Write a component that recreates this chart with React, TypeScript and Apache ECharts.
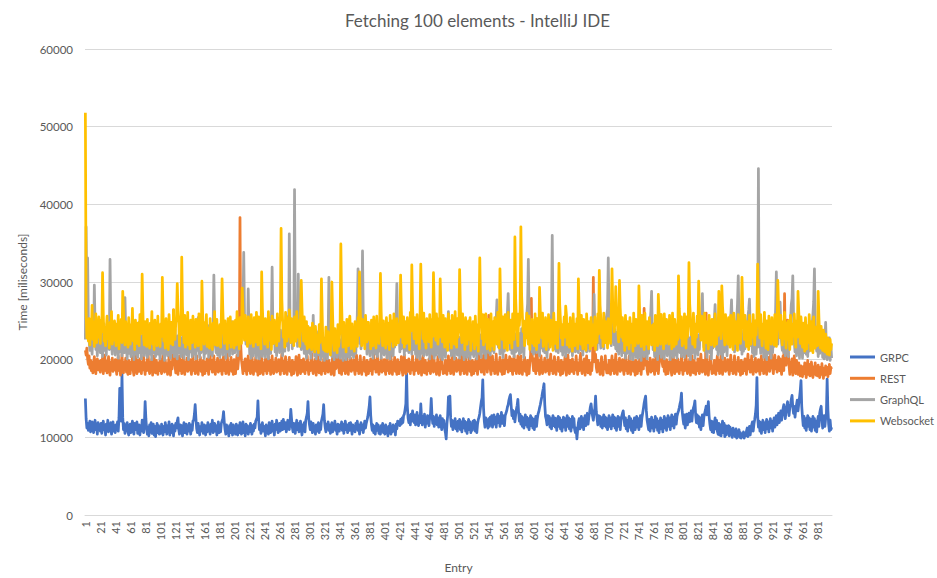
import React, { useEffect, useRef } from "react";
import * as echarts from "echarts";

// Values are in units of 100 ms (multiplied by 100 when building the series)
const seriesNames = ["GRPC", "REST", "GraphQL", "Websocket"];
const colors = ["#4472C4", "#ED7D31", "#A5A5A5", "#FFC000"];

const grpc = [
150,124,112,118,109,116,121,107,114,120,111,106,117,122,110,115,104,119,112,116,
108,118,105,113,121,110,115,103,117,109,122,107,114,111,119,104,112,120,108,115,
106,116,111,120,108,125,163,128,121,181,126,110,118,105,114,109,119,107,103,112,
117,106,113,121,109,104,118,110,112,120,105,111,116,103,114,108,122,110,106,117,
146,124,111,104,113,102,116,108,119,105,112,117,103,114,101,110,118,106,115,104,
111,105,117,109,103,114,107,119,111,104,115,108,120,103,113,106,117,110,102,115,
108,118,112,121,125,110,104,116,109,115,102,112,119,106,111,117,104,114,108,118,
112,104,116,109,121,122,130,142,124,111,106,118,110,103,114,108,119,112,105,116,
110,103,115,107,119,109,113,104,117,110,122,106,112,118,108,115,103,111,120,106,
115,107,118,121,124,133,119,110,104,116,108,113,102,115,106,118,111,103,116,108,
112,104,117,108,103,115,106,119,110,104,113,120,106,111,102,117,108,115,104,112,
107,118,111,104,115,108,117,112,121,123,126,147,122,110,116,105,112,119,108,114,
110,102,116,108,113,104,119,110,106,115,121,108,112,103,117,110,122,114,106,112,
118,108,114,121,110,123,116,111,119,107,114,122,117,110,120,136,124,113,107,118,
112,105,116,122,110,118,107,114,121,110,103,116,112,119,107,122,126,131,146,124,
116,110,120,112,106,118,110,114,104,116,108,112,119,106,114,110,121,125,130,142,
122,113,107,117,112,120,109,116,105,114,119,107,116,111,121,109,114,104,117,111,
108,116,112,120,109,117,105,114,121,110,116,106,112,118,109,119,114,104,116,110,
114,107,118,112,121,109,116,104,112,119,110,116,106,114,121,112,118,122,126,133,
140,152,128,116,109,116,106,114,104,112,118,109,116,105,112,104,115,110,118,106,
112,104,116,107,112,102,114,109,118,104,112,107,116,109,114,103,117,111,121,116,
120,115,123,117,125,119,128,130,136,143,182,140,125,119,128,116,130,121,134,124,
119,129,116,125,132,120,115,128,119,143,126,116,127,119,130,113,124,118,128,121,
115,126,130,150,128,118,127,114,124,119,129,116,125,113,121,128,118,110,124,114,
122,111,106,98,117,128,152,130,153,125,114,122,110,121,113,124,111,119,108,121,
114,123,110,120,107,118,124,112,121,108,119,105,117,123,110,120,106,117,109,121,
113,122,108,119,106,117,123,126,131,139,146,151,174,138,121,113,125,116,122,112,
124,114,126,117,128,113,123,129,117,126,113,125,130,119,127,114,124,132,118,128,
121,115,128,131,134,139,142,148,152,155,141,128,135,124,133,120,129,136,141,149,
132,121,130,117,127,114,125,112,122,129,116,126,113,124,110,121,128,115,125,112,
123,110,120,127,114,124,130,133,138,142,147,152,158,163,169,142,127,123,116,128,
118,127,113,124,111,122,128,115,125,113,124,109,121,127,114,125,111,122,108,120,
126,113,124,109,121,128,114,125,111,123,108,120,127,113,124,110,106,112,98,110,
119,124,111,122,127,113,124,110,123,128,115,125,131,117,126,132,139,143,134,127,
122,132,137,153,133,124,116,128,119,127,114,125,112,124,129,115,126,113,124,110,
121,128,114,125,111,122,129,115,126,112,124,109,121,127,114,125,110,122,127,131,
134,124,115,125,111,122,108,120,127,113,124,109,121,106,118,125,110,121,127,113,
124,110,121,128,114,125,131,137,144,149,153,134,122,116,110,123,108,120,126,112,
122,108,120,127,113,124,109,121,106,118,125,111,122,107,120,127,112,124,109,121,
128,114,125,110,122,129,115,126,112,124,130,117,127,131,134,138,143,147,157,133,
124,117,129,112,123,130,116,127,131,120,129,134,121,132,138,141,147,128,119,129,
118,127,113,125,110,122,129,115,126,131,135,140,129,137,146,127,117,110,121,107,
120,106,118,125,111,122,108,104,118,103,116,102,114,121,106,118,101,115,103,114,
106,115,102,113,104,110,100,112,103,109,101,111,99,107,102,110,100,106,99,104,
101,107,99,105,102,108,112,101,109,114,103,111,116,120,108,117,123,130,141,177,
127,113,121,108,119,105,116,122,110,119,106,117,123,111,120,107,118,124,112,121,
108,119,125,113,122,128,116,125,131,119,128,134,122,131,137,142,131,124,134,140,
146,136,128,138,143,149,154,139,131,140,126,136,142,148,134,143,151,160,173,140,
126,115,127,112,124,109,121,128,114,125,110,123,108,120,127,113,124,109,121,107,
119,127,114,131,136,140,123,112,121,128,114,124,131,175,136,117,108,122,110,113,
];

const rest = [
212,206,215,201,194,205,189,199,186,197,183,195,204,190,182,196,201,187,198,191,
184,199,190,203,182,195,206,186,198,183,192,204,188,180,197,191,202,185,195,187,
200,189,181,195,205,186,198,180,193,207,188,183,197,190,202,184,195,181,199,189,
182,197,188,204,186,180,195,206,190,182,199,187,185,201,192,182,197,187,205,190,
181,196,186,200,208,188,182,197,186,201,180,193,205,188,183,199,190,181,196,186,
201,188,182,197,207,190,184,199,186,195,181,193,204,186,180,197,188,205,264,208,
192,183,199,188,181,196,205,186,199,182,193,207,188,181,197,191,202,185,196,187,
200,188,181,195,206,186,197,182,193,205,188,181,197,190,203,185,195,180,199,188,
182,197,186,201,191,181,196,207,188,199,184,193,205,186,181,197,190,202,184,195,
186,200,188,181,196,205,186,197,182,193,207,188,181,197,191,203,185,195,181,200,
189,182,197,206,188,199,208,383,218,199,191,182,197,186,201,188,181,196,205,186,
198,182,193,205,188,181,197,190,203,185,195,180,199,188,182,197,206,190,181,196,
186,201,188,182,197,205,186,199,181,193,205,188,182,197,190,202,184,195,186,200,
188,181,196,207,186,198,182,193,204,188,181,197,190,203,185,195,180,199,188,182,
197,188,204,186,180,195,206,190,182,199,188,185,201,192,182,197,187,205,190,181,
196,186,200,208,188,182,197,186,201,180,193,205,188,183,199,190,181,196,186,201,
188,182,197,207,190,184,199,186,195,181,193,204,186,180,197,188,205,190,209,192,
183,199,188,181,196,205,186,199,182,193,207,188,181,197,191,202,185,196,187,200,
188,181,195,206,186,197,182,193,205,188,181,197,190,203,185,195,180,199,188,182,
197,186,201,191,181,196,207,188,199,184,193,205,186,181,197,190,202,184,195,186,
200,188,181,196,205,186,197,182,193,207,188,181,197,191,203,185,195,181,200,189,
182,197,188,204,186,180,195,206,190,182,199,187,185,201,192,182,197,187,205,190,
181,196,186,200,208,188,182,197,186,201,180,193,205,188,183,199,190,181,196,186,
201,188,182,197,207,190,184,199,186,195,181,193,204,186,180,197,188,205,190,182,
192,183,199,188,181,196,205,186,199,182,193,207,188,181,197,191,202,185,196,187,
200,188,181,195,206,186,197,182,193,205,188,181,197,190,203,185,195,180,199,188,
182,197,186,201,191,181,196,207,188,199,184,193,205,186,181,257,213,199,184,195,
257,209,188,181,196,205,186,197,182,193,207,188,181,197,191,203,185,195,181,200,
189,182,197,206,188,199,184,193,204,186,201,188,181,196,205,186,199,182,193,205,
198,182,193,205,188,181,197,190,203,185,195,180,199,188,182,197,206,279,208,196,
186,201,188,182,253,207,186,199,181,193,205,188,182,197,190,202,184,195,186,200,
188,181,196,207,186,198,182,193,204,188,181,197,190,203,185,195,180,199,188,182,
197,188,204,186,180,195,206,190,182,199,188,185,201,192,182,197,187,205,190,181,
196,186,200,208,188,182,197,186,201,180,193,205,188,183,199,190,181,196,186,201,
306,218,197,207,190,184,199,186,195,181,193,204,186,180,197,188,205,190,183,193,
183,199,188,181,196,205,186,199,182,193,207,188,181,197,191,202,185,196,187,200,
188,181,195,206,186,197,182,193,205,188,181,197,190,203,185,195,180,199,188,182,
197,186,201,191,181,196,207,188,266,212,193,205,186,181,197,190,202,184,195,186,
200,188,181,196,205,186,197,182,193,207,258,208,197,191,203,185,195,181,200,189,
182,197,188,204,186,180,195,206,190,182,199,187,185,201,192,182,197,187,205,190,
181,196,186,200,208,188,182,197,186,201,180,193,205,188,183,199,190,181,196,186,
201,188,182,197,207,190,184,199,186,195,181,260,208,186,180,197,188,205,190,182,
192,183,199,188,181,196,205,186,199,182,193,207,188,181,197,191,202,185,196,187,
200,188,181,195,206,186,197,182,193,205,188,181,197,190,203,185,195,180,199,188,
182,197,186,201,191,181,196,207,188,199,184,193,205,186,181,197,190,202,184,195,
186,200,188,181,196,205,186,197,182,193,207,188,181,197,191,203,185,195,247,203,
189,182,197,206,188,199,184,193,204,186,201,188,181,196,205,186,285,218,193,205,
251,208,192,181,197,186,201,180,193,205,188,182,199,190,181,196,186,179,192,182,
178,191,182,196,184,177,190,199,181,194,179,187,197,182,177,191,184,196,180,189,
179,193,184,177,190,181,195,183,176,189,180,192,181,190,178,186,194,182,190,188,
];

const graphql = [
226,371,268,331,248,225,212,239,220,207,233,218,296,242,213,228,205,236,216,230,
209,238,219,204,231,246,212,226,206,235,216,241,213,329,251,220,207,232,215,240,
206,228,214,237,202,224,244,210,231,205,238,217,209,280,236,213,201,227,208,235,
217,204,231,210,242,200,223,207,234,214,203,228,248,209,219,201,231,212,238,205,
225,210,233,203,218,241,207,229,213,200,226,236,209,222,204,243,216,207,231,212,
201,228,217,242,207,221,199,234,213,226,205,244,210,219,202,232,209,229,215,204,
239,213,224,201,231,209,247,215,204,228,212,237,202,222,213,241,206,219,200,229,
210,236,215,204,227,243,207,221,201,231,212,254,217,203,233,209,224,213,239,202,
222,208,234,213,229,203,244,217,207,227,205,240,309,252,218,209,231,206,226,215,
203,237,212,224,206,246,216,230,202,221,239,210,226,205,235,213,249,207,229,217,
209,233,218,242,205,226,213,247,222,236,252,265,338,258,239,220,243,226,291,236,
207,231,202,220,238,205,226,212,244,202,222,209,230,201,237,214,224,204,233,211,
219,203,240,212,228,201,234,216,208,246,319,243,221,236,210,230,205,241,217,229,
209,238,215,228,205,244,222,211,240,218,255,232,212,362,247,226,240,214,252,234,
419,258,227,244,217,310,254,223,240,213,237,216,233,208,230,219,202,228,212,236,
208,226,202,232,212,257,219,205,230,201,221,209,236,206,226,200,219,230,204,224,
199,228,207,222,201,232,306,238,211,226,204,233,212,200,230,208,222,203,233,211,
226,202,220,205,235,199,228,207,224,200,231,209,204,227,202,221,238,206,230,203,
213,236,208,230,258,317,245,221,238,214,247,340,254,232,242,218,229,207,237,215,
228,205,241,212,231,202,226,209,246,207,230,204,225,239,211,233,202,230,214,224,
206,231,210,223,202,236,213,228,201,241,211,225,205,232,216,244,258,298,245,222,
235,210,228,214,239,217,231,206,229,241,212,233,218,209,236,215,230,207,240,216,
213,232,207,225,203,236,211,230,201,241,216,208,231,205,227,212,237,206,228,209,
225,201,230,211,238,207,223,202,232,214,206,240,209,228,203,231,212,225,200,227,
209,233,203,226,215,243,262,235,212,230,205,234,208,224,201,228,210,238,206,223,
229,202,224,209,236,206,221,200,231,208,226,203,233,211,224,201,230,207,237,212,
204,230,210,226,201,236,209,223,207,232,203,228,214,239,208,225,202,231,212,229,
209,237,206,225,212,241,231,209,236,248,253,277,240,216,233,207,229,212,226,203,
233,211,228,238,251,262,285,246,229,213,236,208,226,215,204,233,210,227,236,212,
225,207,234,209,240,215,228,203,236,248,243,259,272,329,257,232,214,239,210,229,
207,234,214,230,209,238,213,227,205,235,215,243,228,211,240,209,231,216,203,229,
213,235,219,244,258,360,251,234,214,241,211,230,238,209,233,217,243,211,229,206,
237,212,228,204,232,214,240,209,226,236,211,229,205,237,213,228,210,239,212,226,
209,232,216,241,212,229,206,235,214,244,228,210,238,216,233,211,241,229,248,235,
253,284,241,220,236,213,242,222,251,226,215,245,221,240,214,247,225,252,258,265,
331,257,229,247,218,243,223,250,219,239,214,235,211,231,207,238,213,230,205,234,
215,209,232,202,228,208,236,212,227,201,231,210,224,200,229,207,235,203,226,209,
202,230,208,224,199,233,209,227,204,236,212,225,201,232,208,238,249,262,288,236,
213,229,204,236,210,227,200,231,208,239,214,203,233,209,228,201,237,211,226,205,
232,208,226,200,235,210,229,203,238,213,206,232,202,227,211,240,209,229,204,235,
211,229,203,236,213,208,233,205,228,214,200,232,208,238,210,226,202,235,211,227,
206,232,213,239,250,255,285,241,216,236,211,229,203,233,213,239,209,228,201,232,
215,240,252,271,238,213,232,206,229,211,236,207,227,202,235,210,240,213,230,205,
230,235,243,249,256,277,242,217,236,210,233,240,253,272,308,248,233,213,238,207,
232,211,238,214,240,219,245,256,264,278,243,218,235,209,230,204,233,212,207,232,
216,446,259,233,208,236,213,230,203,235,210,228,200,230,208,237,211,226,202,232,
209,234,217,242,265,313,249,220,238,259,274,246,222,212,237,209,230,205,236,211,
228,204,233,238,251,271,279,308,256,223,210,231,205,234,211,228,202,232,208,226,
202,230,209,236,213,207,232,204,227,211,235,242,217,245,259,275,317,248,220,211,
232,204,226,208,234,211,229,203,227,201,223,248,214,200,221,203,228,199,219,202,
];

const websocket = [
518,262,228,241,224,253,219,245,232,270,226,249,217,238,259,222,247,229,255,233,
221,251,236,312,258,224,242,218,237,256,227,244,215,248,230,262,220,239,225,250,
236,218,246,229,257,214,241,233,252,222,288,261,238,219,249,231,243,216,254,228,
220,245,231,266,224,239,213,251,235,221,247,229,218,258,233,240,310,262,227,219,
249,231,217,252,226,243,215,247,234,262,220,238,213,251,228,244,218,256,225,239,
217,246,230,306,259,224,241,215,253,228,244,213,258,233,221,248,236,219,264,231,
226,247,254,298,263,249,218,255,232,332,268,241,222,257,216,243,229,261,219,238,
214,251,233,222,256,227,245,216,252,231,240,218,259,226,238,213,301,259,233,220,
248,226,258,217,241,231,215,253,224,243,213,247,229,262,219,236,252,218,240,227,
245,216,256,304,264,236,221,250,228,242,214,253,232,222,255,216,240,229,249,215,
233,251,219,262,230,244,214,254,235,221,292,263,238,225,257,231,246,217,255,226,
244,221,258,229,246,217,254,232,223,261,238,219,255,228,242,214,313,266,241,229,
220,253,232,246,216,262,237,225,248,213,256,232,221,251,229,243,218,259,234,224,
247,256,369,278,252,229,244,216,261,236,224,254,230,264,241,222,253,233,247,218,
255,235,224,262,241,229,250,217,258,302,266,239,224,255,233,220,249,214,243,230,
216,241,226,213,247,219,236,210,243,225,214,232,209,245,222,230,304,258,219,213,
227,211,242,219,210,236,216,228,206,244,300,257,222,212,240,218,232,209,245,217,
226,244,349,274,236,216,248,225,238,210,252,229,218,249,256,232,214,246,227,237,
211,249,224,238,217,254,231,313,263,238,218,252,228,242,214,257,234,223,248,248,
226,240,214,251,229,218,255,232,242,215,256,227,239,221,246,311,262,232,218,250,
228,243,215,254,231,220,247,213,257,235,224,250,217,259,229,242,219,253,231,222,
246,229,309,264,238,222,255,216,249,233,221,254,230,243,213,261,237,322,268,245,
227,254,236,221,258,231,245,214,256,323,270,243,227,260,223,240,215,253,233,246,
223,258,236,216,252,230,312,266,241,225,259,235,220,253,229,304,263,239,223,257,
236,216,253,230,243,212,259,233,223,250,215,257,229,241,220,262,236,216,253,229,
243,316,268,237,222,259,228,246,213,254,233,220,245,250,226,254,212,240,224,249,
229,214,256,235,219,245,211,261,331,270,247,227,258,219,242,223,259,234,214,252,
226,245,212,259,234,218,249,213,254,229,242,220,261,236,215,317,268,243,226,255,
235,215,258,229,244,212,261,235,222,251,232,215,259,241,226,358,279,252,234,218,
259,244,265,371,283,257,236,250,218,247,228,260,235,220,256,213,244,230,252,221,
244,218,259,232,213,253,235,222,293,263,248,228,260,217,243,226,254,213,240,224,
258,231,216,251,229,243,212,260,236,221,248,233,215,254,324,271,251,228,245,219,
236,255,229,269,258,219,246,233,216,254,227,243,211,259,235,218,246,230,253,214,
304,265,243,220,257,233,214,252,229,243,212,259,236,222,249,230,214,254,236,218,
245,229,255,213,240,222,259,233,315,270,254,228,245,217,260,235,222,249,232,215,
253,230,245,221,262,317,269,255,236,248,294,264,252,233,223,302,266,246,229,254,
224,245,212,257,234,219,249,229,214,254,236,222,246,211,260,233,218,252,226,243,
221,295,262,238,217,257,229,246,213,260,235,220,249,230,214,254,233,242,219,244,
225,246,212,257,231,249,218,284,260,236,220,258,233,245,214,259,236,221,252,228,
245,220,257,230,243,214,260,233,217,252,236,220,245,226,308,266,249,228,255,218,
242,221,259,236,215,255,229,245,325,272,255,232,248,220,260,236,216,246,229,256,
236,301,264,241,225,256,233,245,212,260,236,222,249,229,214,257,233,243,219,252,
228,246,217,259,236,220,249,231,288,264,249,227,295,268,252,233,219,258,236,245,
220,254,232,216,257,229,246,213,260,236,221,249,229,212,258,233,242,221,254,306,
266,246,226,257,233,217,249,228,213,257,236,220,246,229,258,234,219,250,232,253,
323,270,249,228,258,234,218,246,227,261,235,215,250,229,213,256,232,243,220,254,
228,246,219,258,236,217,249,302,266,245,228,257,232,219,249,227,261,236,215,247,
226,250,229,213,257,235,220,246,230,259,236,216,250,229,288,262,243,221,255,233,
216,247,226,211,254,230,214,244,222,258,233,212,249,226,209,255,229,215,242,221,
218,288,254,231,215,243,224,212,238,220,210,233,217,207,228,214,206,226,213,221,
];

const seriesValues = [grpc, rest, graphql, websocket];
const entries = grpc.map((_, i) => String(i + 1));

const yMin = 0;
const yMax = 60000;
const yInterval = 10000;

const FONT = "Lato, 'Open Sans', sans-serif";
const TEXT = "#595959";

export default function App() {
  const ref = useRef<HTMLDivElement>(null);
  useEffect(() => {
    if (!ref.current) return;
    const chart = echarts.init(ref.current, undefined, { renderer: "svg" });
    chart.setOption({
      animation: false,
      backgroundColor: "#ffffff",
      textStyle: { fontFamily: FONT },
      title: {
        text: "Fetching 100 elements - IntelliJ IDE",
        left: 345,
        top: 12,
        padding: 0,
        textStyle: { fontFamily: FONT, fontSize: 17, fontWeight: "normal", color: TEXT },
      },
      legend: {
        orient: "vertical",
        left: 850,
        top: 350,
        padding: 0,
        icon: "rect",
        itemWidth: 25,
        itemHeight: 3,
        itemGap: 7.3,
        data: seriesNames,
        textStyle: { fontFamily: FONT, fontSize: 11, color: TEXT, lineHeight: 14, padding: [0, 0, 0, 0] },
      },
      grid: { left: 85, right: 105, top: 49, bottom: 60 },
      xAxis: {
        type: "category",
        data: entries,
        boundaryGap: true,
        name: "Entry",
        nameLocation: "middle",
        nameGap: 46,
        nameTextStyle: { fontFamily: FONT, fontSize: 12, color: TEXT },
        axisLine: { lineStyle: { color: "#d9d9d9" } },
        axisTick: { show: false },
        axisLabel: {
          interval: 19,
          rotate: 90,
          fontSize: 11,
          color: TEXT,
          fontFamily: FONT,
          margin: 6,
        },
      },
      yAxis: {
        type: "value",
        min: yMin,
        max: yMax,
        interval: yInterval,
        name: "Time [miliseconds]",
        nameLocation: "middle",
        nameGap: 45,
        nameTextStyle: { fontFamily: FONT, fontSize: 12, color: TEXT },
        axisLine: { show: false },
        axisTick: { show: false },
        axisLabel: {
          fontSize: 11.5,
          color: TEXT,
          fontFamily: FONT,
          margin: 12,
          formatter: (v: number) => String(v),
        },
        splitLine: { lineStyle: { color: "#d9d9d9", width: 1 } },
      },
      series: seriesNames.map((name, k) => ({
        name,
        type: "line",
        data: seriesValues[k].map((v) => v * 100),
        symbol: "none",
        showSymbol: false,
        color: colors[k],
        lineStyle: { width: 2.75, color: colors[k], join: "round" },
        z: 2 + k,
      })),
    });
    return () => chart.dispose();
  }, []);
  return (
    <div
      ref={ref}
      style={{ position: "fixed", left: 0, top: 0, width: 937, height: 578, background: "#fff" }}
    />
  );
}
